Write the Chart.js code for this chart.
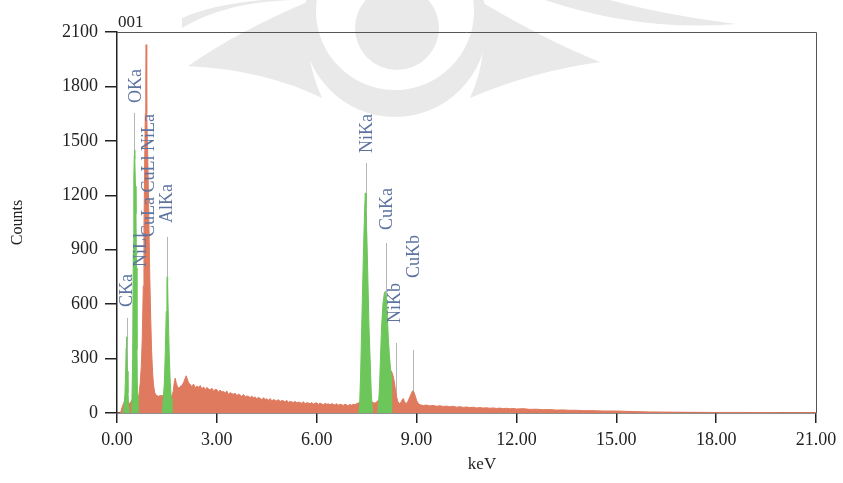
<!DOCTYPE html>
<html>
<head>
<meta charset="utf-8">
<script src="https://cdn.jsdelivr.net/npm/chart.js@4/dist/chart.umd.min.js"></script>
<style>
  html, body { margin: 0; padding: 0; background: #fff; }
  canvas { display: block; }
</style>
</head>
<body>
<canvas id="c" width="843" height="483"></canvas>
<script>
// ---------- DATA ----------
const xTicks = [0, 3, 6, 9, 12, 15, 18, 21];
const yTicks = [0, 300, 600, 900, 1200, 1500, 1800, 2100];

// Total spectrum (orange-red), [keV, counts]
const lowEnergyRed = [
  [0.00,0],[0.10,0],[0.13,15],[0.16,35],[0.19,50],[0.22,62],[0.25,72],[0.28,80],[0.31,70],[0.34,55],
  [0.37,50],[0.40,58],[0.43,66],[0.47,80],[0.52,90],[0.57,85],[0.60,78],[0.62,72],[0.66,100],[0.70,170],
  [0.73,260],[0.76,420],[0.79,700],[0.81,1000],[0.83,1350],[0.85,1650],[0.865,1800],[0.875,2030],[0.885,1800],
  [0.90,1650],[0.92,1450],[0.95,1150],[0.98,800],[1.01,540],[1.04,340],[1.07,220],[1.10,150],[1.13,115],
  [1.17,98],[1.21,95],[1.25,92],[1.30,96],[1.35,95],[1.40,100],[1.50,110],[1.60,100],[1.65,92],[1.69,120],
  [1.72,168],[1.75,192],[1.78,165],[1.82,142],[1.86,138],[1.90,146],[1.95,152],[2.00,168],[2.04,188],
  [2.08,205],[2.12,182],[2.16,162]
];
const backgroundRed = [
  [2.20,158],[2.25,144],[2.30,160],[2.35,139],[2.40,148],[2.45,142],[2.50,152],[2.55,131],[2.60,144],[2.65,128],
  [2.70,141],[2.75,133],[2.80,126],[2.85,137],[2.90,121],[2.95,130],[3.00,129],[3.05,114],[3.10,127],[3.15,116],
  [3.20,118],[3.25,112],[3.30,121],[3.35,101],[3.40,113],[3.45,106],[3.50,104],[3.55,109],[3.60,96],[3.65,104],
  [3.70,99],[3.75,91],[3.80,103],[3.85,88],[3.90,94],[3.95,92],[4.00,85],[4.05,93],[4.10,84],[4.15,88],
  [4.20,79],[4.25,86],[4.30,81],[4.35,73],[4.40,84],[4.45,75],[4.50,78],[4.55,70],[4.60,80],[4.65,68],
  [4.70,73],[4.75,71],[4.80,66],[4.85,74],[4.90,63],[4.95,69],[5.00,67],[5.05,60],[5.10,70],[5.15,58],
  [5.20,64],[5.25,62],[5.30,57],[5.35,65],[5.40,55],[5.45,60],[5.50,58],[5.55,53],[5.60,62],[5.65,51],
  [5.70,57],[5.75,55],[5.80,50],[5.85,58],[5.90,49],[5.95,54],[6.00,56],[6.05,47],[6.10,55],[6.15,50],
  [6.20,46],[6.25,53],[6.30,48],[6.35,51],[6.40,45],[6.45,52],[6.50,47],[6.55,44],[6.60,51],[6.65,43],
  [6.70,48],[6.75,46],[6.80,42],[6.85,49],[6.90,44],[6.95,41]
];
const niCuRed = [
  [7.00,47],[7.05,43],[7.10,48],[7.15,45],[7.20,52],[7.25,55],[7.30,60],[7.40,64],[7.50,68],[7.60,62],
  [7.70,58],[7.75,54],[7.80,60],[7.85,70],[7.95,90],[8.05,125],[8.15,200],[8.20,222],[8.24,232],[8.28,214],
  [8.31,192],[8.34,160],[8.37,120],[8.40,88],[8.44,62],[8.48,52],[8.52,56],[8.56,70],[8.60,80],[8.64,62],
  [8.68,52],[8.72,58],[8.76,72],[8.80,90],[8.84,106],[8.88,122],[8.92,116],[8.96,94],[9.00,70],[9.05,52],
  [9.10,46]
];
const tailRed = [
  [9.2,41],[9.3,44],[9.4,39],[9.5,42],[9.6,37],[9.7,40],[9.8,36],[9.9,38],[10.0,34],[10.1,37],
  [10.2,32],[10.3,35],[10.4,31],[10.5,33],[10.6,30],[10.7,32],[10.8,28],[10.9,30],[11.0,27],[11.1,29],
  [11.2,26],[11.3,28],[11.4,25],[11.5,27],[11.6,24],[11.7,26],[11.8,23],[11.9,25],[12.0,22],[12.2,24],
  [12.4,20],[12.6,21],[12.8,18],[13.0,19],[13.2,16],[13.4,17],[13.6,15],[13.8,15],[14.0,13],[14.3,13],
  [14.6,11],[15.0,11],[15.5,8],[16.0,6],[16.5,5],[17.0,4],[18.0,3],[19.0,3],[20.0,2],[21.0,2]
];

// Identified peaks (green), [keV, counts]
const peakCKa  = [[0.18,0],[0.21,30],[0.24,110],[0.26,230],[0.275,360],[0.285,420],[0.295,360],[0.31,230],[0.33,110],[0.35,40],[0.37,0]];
const peakOKa  = [[0.43,0],[0.45,80],[0.47,300],[0.49,900],[0.50,1150],[0.51,1300],[0.52,1420],[0.53,1450],[0.54,1400],[0.555,1250],[0.57,1100],[0.585,800],[0.60,350],[0.615,100],[0.63,0]];
const peakAlKa = [[1.36,0],[1.39,80],[1.42,160],[1.45,330],[1.48,560],[1.50,720],[1.51,750],[1.52,720],[1.54,540],[1.57,320],[1.60,170],[1.63,80],[1.65,0]];
const peakNiKa = [[7.26,0],[7.29,50],[7.32,220],[7.35,460],[7.38,700],[7.41,930],[7.44,1120],[7.46,1213],[7.48,1130],[7.51,950],[7.54,720],[7.57,480],[7.60,320],[7.64,110],[7.68,0]];
const peakCuKa = [[7.83,0],[7.86,60],[7.89,160],[7.92,330],[7.95,480],[7.99,600],[8.03,660],[8.06,670],[8.09,630],[8.12,540],[8.15,420],[8.18,330],[8.21,260],[8.24,210],[8.25,0]];

// Peak-identification marker lines
const lineKeV = [0.29, 0.52, 1.49, 7.49, 8.08, 8.38, 8.90];
const lineTop = [524, 1654, 970, 1378, 937, 386, 347];

// Peak labels (vertical text), bottom end of the text in counts
const labelText = ['CKa', 'OKa', 'NiLl', 'CuLa CuLl NiLa', 'AlKa', 'NiKa', 'CuKa', 'NiKb', 'CuKb'];
const labelKeV  = [0.29, 0.54, 0.69, 0.93, 1.49, 7.50, 8.09, 8.34, 8.90];
const labelBase = [584, 1709, 805, 970, 1047, 1433, 1009, 496, 744];

// ---------- STYLE ----------
const RED = '#e07a5f';
const GREEN = '#6cc65a';
const INK = '#222';
const LABEL = '#5e74a0';
const SERIF = '"Liberation Serif", "Times New Roman", serif';

const toXY = arr => arr.map(p => ({ x: p[0], y: p[1] }));
const spectrumRed = [].concat(lowEnergyRed, backgroundRed, niCuRed, tailRed);
const greenPeaks = [peakCKa, peakOKa, peakAlKa, peakNiKa, peakCuKa];

const datasets = greenPeaks.map(pk => ({
  data: toXY(pk), order: 0,
  backgroundColor: GREEN, borderColor: GREEN, borderWidth: 1,
  fill: 'origin', pointRadius: 0, tension: 0
}));
datasets.push({
  data: toXY(spectrumRed), order: 1,
  backgroundColor: RED, borderColor: RED, borderWidth: 1,
  fill: 'origin', pointRadius: 0, tension: 0
});

const deco = {
  id: 'deco',
  beforeDraw(chart) {
    const c = chart.ctx;
    c.save();
    c.fillStyle = '#fff';
    c.fillRect(0, 0, chart.width, chart.height);
    // faint watermark behind the chart
    const W = '#e9e9e9';
    c.fillStyle = W;
    c.beginPath(); c.arc(395, 25, 92, 0, Math.PI * 2); c.fill();
    c.fillStyle = '#fff';
    c.beginPath(); c.arc(395, 11, 79, 0, Math.PI * 2); c.fill();
    c.fillStyle = W;
    c.beginPath(); c.arc(397, 28, 42, 0, Math.PI * 2); c.fill();
    // left wing
    c.beginPath(); c.moveTo(312, 0); c.quadraticCurveTo(240, 30, 188, 66);
    c.quadraticCurveTo(265, 70, 322, 98); c.quadraticCurveTo(300, 50, 312, 0); c.fill();
    // left top band
    c.beginPath(); c.moveTo(182, 28); c.quadraticCurveTo(225, 2, 292, 0);
    c.lineTo(262, 0); c.quadraticCurveTo(215, 4, 182, 18); c.fill();
    // right wing
    c.beginPath(); c.moveTo(478, 0); c.quadraticCurveTo(545, 40, 600, 62);
    c.quadraticCurveTo(530, 72, 470, 98); c.quadraticCurveTo(492, 50, 478, 0); c.fill();
    // right top band
    c.beginPath(); c.moveTo(545, 0); c.quadraticCurveTo(640, 32, 736, 24);
    c.quadraticCurveTo(660, 14, 610, 0); c.fill();
    c.restore();
  },
  beforeDatasetsDraw(chart) {
    const c = chart.ctx, xs = chart.scales.x, ys = chart.scales.y;
    c.save();
    c.strokeStyle = '#b5b5b5';
    c.lineWidth = 1;
    lineKeV.forEach((k, i) => {
      const x = Math.round(xs.getPixelForValue(k)) + 0.5;
      c.beginPath();
      c.moveTo(x, ys.getPixelForValue(lineTop[i]));
      c.lineTo(x, ys.getPixelForValue(0));
      c.stroke();
    });
    c.restore();
  },
  afterDraw(chart) {
    const c = chart.ctx, xs = chart.scales.x, ys = chart.scales.y, a = chart.chartArea;
    c.save();
    // frame top & right
    c.strokeStyle = '#555';
    c.lineWidth = 1;
    c.beginPath();
    c.moveTo(a.left, a.top + 0.5); c.lineTo(a.right + 0.5, a.top + 0.5); c.lineTo(a.right + 0.5, a.bottom);
    c.stroke();
    // peak labels
    c.fillStyle = LABEL;
    c.font = '18px ' + SERIF;
    c.textAlign = 'left';
    c.textBaseline = 'middle';
    labelText.forEach((t, i) => {
      c.save();
      c.translate(xs.getPixelForValue(labelKeV[i]), ys.getPixelForValue(labelBase[i]));
      c.rotate(-Math.PI / 2);
      c.fillText(t, 0, 1);
      c.restore();
    });
    // spectrum id
    c.fillStyle = INK;
    c.font = '17px ' + SERIF;
    c.textAlign = 'left';
    c.textBaseline = 'alphabetic';
    c.fillText('001', a.left + 1, 27);
    // x-axis title
    c.font = '17px ' + SERIF;
    c.textAlign = 'center';
    c.textBaseline = 'middle';
    c.fillText('keV', 482, 465);
    c.restore();
  }
};

new Chart(document.getElementById('c'), {
  type: 'line',
  data: { datasets },
  options: {
    responsive: false,
    animation: false,
    layout: { padding: { top: 32, right: 27, left: 0, bottom: 0 } },
    plugins: { legend: { display: false }, tooltip: { enabled: false }, title: { display: false } },
    scales: {
      x: {
        type: 'linear', min: 0, max: 21,
        afterBuildTicks: s => { s.ticks = xTicks.map(v => ({ value: v })); },
        afterFit: s => { s.height = 70; },
        ticks: { callback: v => Number(v).toFixed(2), font: { family: SERIF, size: 18 }, color: INK, padding: 6, maxRotation: 0, autoSkip: false },
        grid: { drawOnChartArea: false, drawTicks: true, tickLength: 10, color: INK, lineWidth: 1.5 },
        border: { display: true, color: INK, width: 1.5 }
      },
      y: {
        type: 'linear', min: 0, max: 2100,
        afterBuildTicks: s => { s.ticks = yTicks.map(v => ({ value: v })); },
        afterFit: s => { s.width = 117; },
        ticks: { callback: v => String(v), font: { family: SERIF, size: 18 }, color: INK, padding: 7, autoSkip: false },
        grid: { drawOnChartArea: false, drawTicks: true, tickLength: 12, color: INK, lineWidth: 1.5 },
        border: { display: true, color: INK, width: 1.5 },
        title: { display: true, text: 'Counts', font: { family: SERIF, size: 16 }, color: INK, padding: { top: 8, bottom: 0 } }
      }
    }
  },
  plugins: [deco]
});
</script>
</body>
</html>
